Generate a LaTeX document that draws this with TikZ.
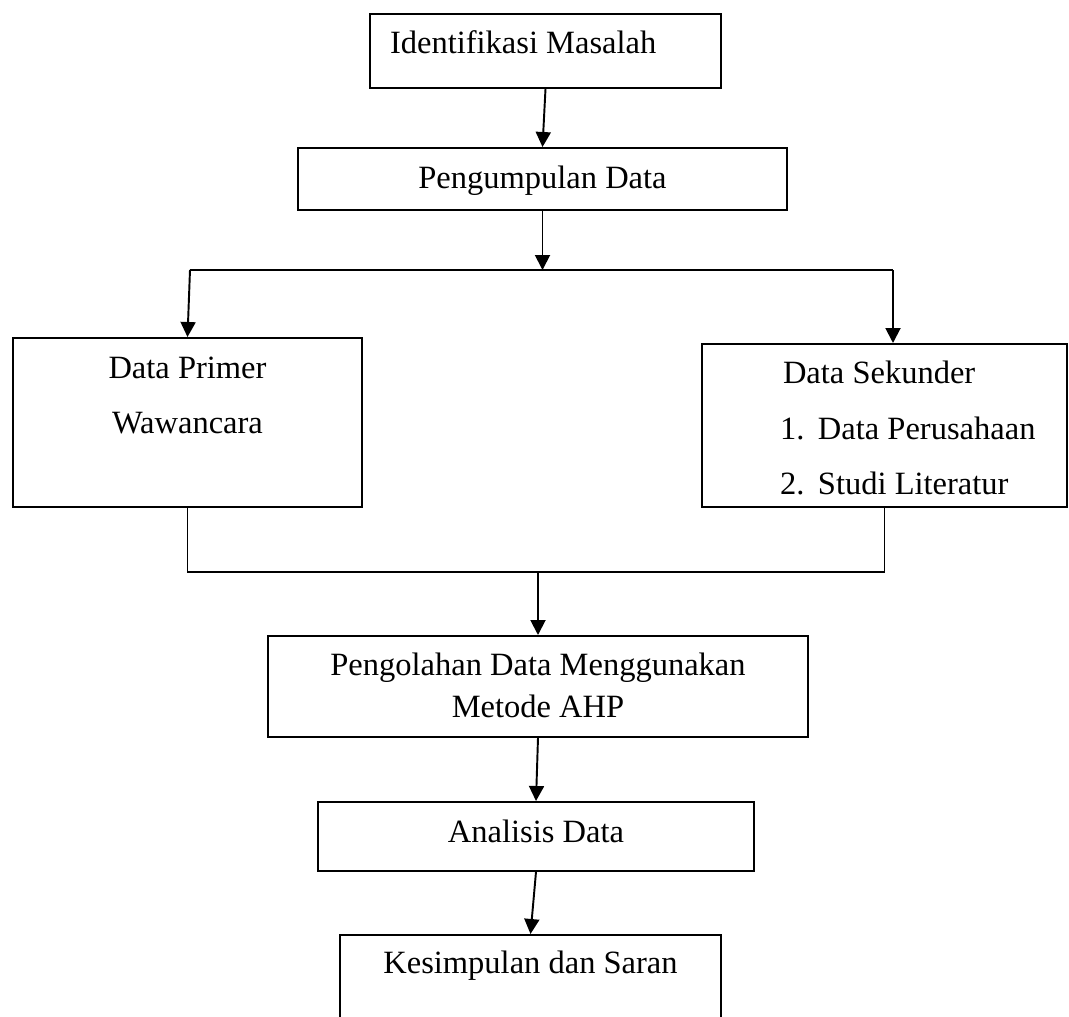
\documentclass[tikz,border=0pt]{standalone}
\usepackage{fontspec}
\setmainfont{Liberation Serif}
\usetikzlibrary{arrows.meta,positioning,calc}
\tikzset{
  box/.style={draw=black,line width=1.1pt,anchor=north,inner xsep=0pt,
    inner ysep=0pt,align=center,text height=0.44cm,
    font=\fontsize{18.5}{22}\selectfont},
  tallbox/.style={box,font=\fontsize{18.5}{31.5}\selectfont},
  line/.style={line width=1.1pt,black},
  arrow/.style={-{Triangle[length=0.3cm,width=0.3cm]},line width=1.1pt,black}
}

\begin{document}
\begin{tikzpicture}[x=0.02cm,y=-0.02cm]

\useasboundingbox (0,0) rectangle (1069,1017);
\clip (0,0) rectangle (1069,1017);

\node[box,minimum width=7.02cm,minimum height=1.48cm,text width=6.22cm,
  inner xsep=0.4cm,align=flush left,text depth=0.32cm] (idm) at (545.5,13)
  {Identifikasi Masalah};
\node[box,minimum width=9.78cm,minimum height=1.24cm,text depth=0.04cm]
  (pd) at (542.5,147) {Pengumpulan Data};

\node[tallbox,minimum width=6.98cm,minimum height=3.38cm,text height=1.56cm,
  text depth=1.1cm] (dp) at (187.5,337) {Data Primer\\Wawancara};
\node[tallbox,minimum width=7.3cm,minimum height=3.26cm,text width=7.3cm,
  align=flush left,text depth=2.1cm] (ds) at (884.5,343)
  {\hspace*{1.62cm}Data Sekunder\\
   \hspace*{1.56cm}\makebox[0.76cm][l]{1.}Data Perusahaan\\
   \hspace*{1.56cm}\makebox[0.76cm][l]{2.}Studi Literatur};

\node[box,minimum width=10.8cm,minimum height=2.02cm,text height=1.28cm,
  text depth=0.02cm,font=\fontsize{18.5}{23.9}\selectfont] (pol) at (538,635)
  {Pengolahan Data Menggunakan\\Metode AHP};
\node[box,minimum width=8.72cm,minimum height=1.38cm,text depth=0.18cm]
  (ad) at (536,801) {Analisis Data};
\node[box,minimum width=7.62cm,minimum height=2cm,text depth=0.88cm]
  (ks) at (530.5,934) {Kesimpulan dan Saran};

% junctions
\coordinate (tl) at (190,270);
\coordinate (tm) at (542.5,270);
\coordinate (tr) at (893,270);
\coordinate (bm) at (538,572);

\draw[arrow] (idm.south) -- (pd.north);
\draw[arrow] (pd.south) -- (tm);
\draw[line] (tl) -- (tr);
\draw[arrow] (tl) -- (dp.north);
\draw[arrow] (tr) -- (tr |- ds.north);

\draw[line] (dp.south) |- (bm) -| (ds.south);
\draw[arrow] (bm) -- (pol.north);
\draw[arrow] (pol.south) -- (ad.north);
\draw[arrow] (ad.south) -- (ks.north);

\end{tikzpicture}
\end{document}
